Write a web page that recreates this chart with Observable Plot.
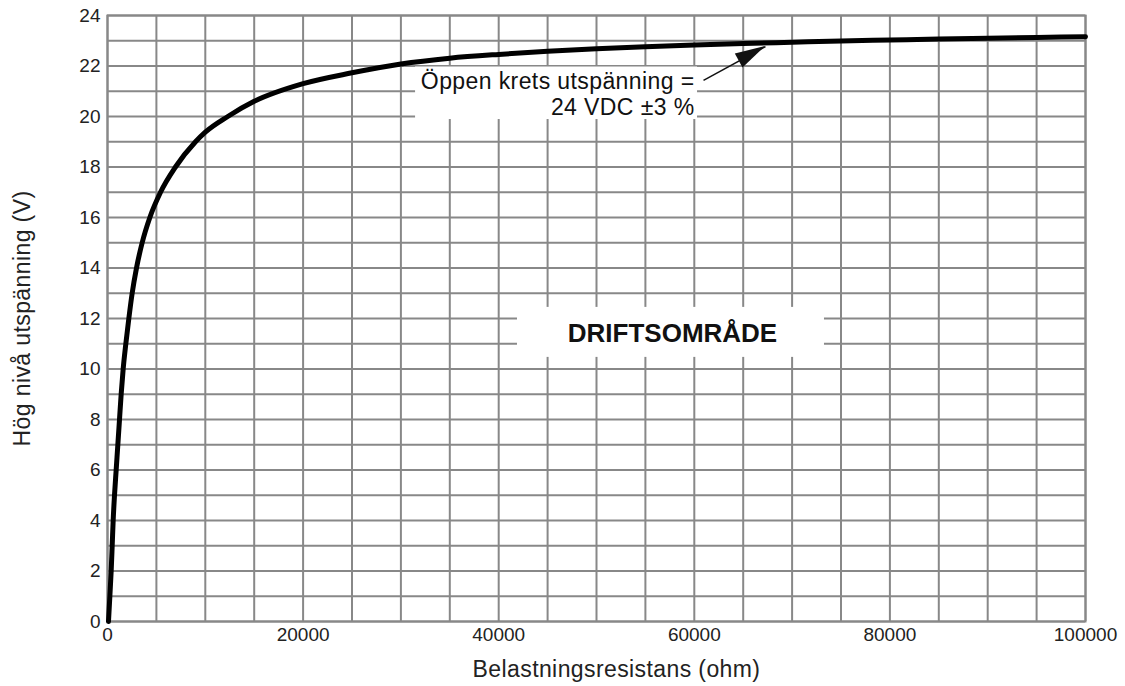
<!DOCTYPE html>
<html>
<head>
<meta charset="utf-8">
<script src="https://cdn.jsdelivr.net/npm/d3@7"></script>
<script src="https://cdn.jsdelivr.net/npm/@observablehq/plot@0.6"></script>
<style>
  html, body { margin: 0; padding: 0; background: #fff; }
  #chart svg { display: block; }
</style>
</head>
<body>
<div id="chart"></div>
<script>
// Load resistance (ohm)
const resistance = [100, 240, 375, 480, 580, 716, 886, 1057, 1227, 1397, 1602, 1875, 2181, 2522, 2965, 3544, 4330, 5420, 6950, 9000, 10000, 12300, 15000, 20000, 25000, 30000, 35000, 40000, 45000, 50000, 55000, 60000, 65000, 70000, 75000, 80000, 85000, 90000, 95000, 100000];
// High-level output voltage (V)
const voltage = [0, 1, 2, 3, 4, 5, 6, 7, 8, 9, 10, 11, 12, 13, 14, 15, 16, 17, 18, 19, 19.38, 20, 20.6, 21.30, 21.73, 22.08, 22.31, 22.46, 22.58, 22.68, 22.76, 22.83, 22.89, 22.94, 22.99, 23.03, 23.07, 23.10, 23.13, 23.16];

const xTicks = [0, 20000, 40000, 60000, 80000, 100000];
const yTicks = [0, 2, 4, 6, 8, 10, 12, 14, 16, 18, 20, 22, 24];
const xGrid = [0, 5000, 10000, 15000, 20000, 25000, 30000, 35000, 40000, 45000, 50000, 55000, 60000, 65000, 70000, 75000, 80000, 85000, 90000, 95000, 100000];
const yGrid = [0, 1, 2, 3, 4, 5, 6, 7, 8, 9, 10, 11, 12, 13, 14, 15, 16, 17, 18, 19, 20, 21, 22, 23, 24];

const xTitle = "Belastningsresistans (ohm)";
const yTitle = "Hög nivå utspänning (V)";
const noteLines = ["Öppen krets utspänning =", "24 VDC ±3 %"];
const noteLineY = [21.38, 20.36];
const noteX = 60020;
const noteBox = [{x1: 31500, x2: 60330, y1: 19.88, y2: 21.96}];
const zoneLabel = "DRIFTSOMRÅDE";
const zoneBox = [{x1: 41920, x2: 73310, y1: 10.46, y2: 12.44}];
const zonePos = {x: 57770, y: 11.38};
const arrowTail = {x: 60941, y: 21.43};
const arrowTip = {x: 67280, y: 22.77};

const curveData = resistance.map((r, i) => ({r, v: voltage[i]}));
const FONT = "'Liberation Sans', Arial, Helvetica, sans-serif";

const plot = Plot.plot({
  width: 1125,
  height: 686,
  marginLeft: 107,
  marginRight: 40,
  marginTop: 15,
  marginBottom: 65,
  style: {fontFamily: FONT, fontSize: "19px", color: "#222", background: "#fff", overflow: "visible"},
  x: {domain: [0, 100000], label: null},
  y: {domain: [0, 24], label: null},
  marks: [
    Plot.ruleX(xGrid, {stroke: "#888", strokeWidth: 2}),
    Plot.ruleY(yGrid, {stroke: "#888", strokeWidth: 2}),
    Plot.frame({stroke: "#888", strokeWidth: 2}),
    Plot.rect(noteBox, {x1: "x1", x2: "x2", y1: "y1", y2: "y2", fill: "white"}),
    Plot.rect(zoneBox, {x1: "x1", x2: "x2", y1: "y1", y2: "y2", fill: "white"}),
    Plot.line(curveData, {x: "r", y: "v", stroke: "black", strokeWidth: 5, curve: "monotone-x", strokeLinejoin: "round"}),
    Plot.text(noteLines, {x: () => noteX, y: (d, i) => noteLineY[i], text: d => d, textAnchor: "end", fontSize: 23, fill: "#111"}),
    Plot.text([zoneLabel], {x: () => zonePos.x, y: () => zonePos.y, text: d => d, fontSize: 26, fontWeight: "bold", fill: "#111"}),
    Plot.link([0], {x1: () => arrowTail.x, y1: () => arrowTail.y, x2: () => arrowTip.x, y2: () => arrowTip.y, stroke: "#111", strokeWidth: 1.5}),
    Plot.axisX(xTicks, {tickSize: 0, tickPadding: 6, tickFormat: d => String(d), label: null, fill: "#222"}),
    Plot.axisY(yTicks, {tickSize: 0, tickPadding: 7, tickFormat: d => String(d), label: null, fill: "#222"}),
    Plot.text([xTitle], {frameAnchor: "bottom", textAnchor: "middle", lineAnchor: "middle", dx: 20, dy: 48, fontSize: 23, fill: "#222"}),
    Plot.text([yTitle], {frameAnchor: "left", textAnchor: "middle", lineAnchor: "middle", dx: -85, rotate: -90, fontSize: 23, fill: "#222"})
  ]
});

// Filled arrowhead, positioned through the plot's own scales
const sx = plot.scale("x"), sy = plot.scale("y");
const tx = sx.apply(arrowTip.x), ty = sy.apply(arrowTip.y);
const ax = sx.apply(arrowTail.x), ay = sy.apply(arrowTail.y);
const len = Math.hypot(tx - ax, ty - ay);
const ux = (tx - ax) / len, uy = (ty - ay) / len;
const headLen = 30, halfW = 8;
const bx = tx - ux * headLen, by = ty - uy * headLen;
const pts = [[tx, ty], [bx - uy * halfW, by + ux * halfW], [bx + uy * halfW, by - ux * halfW]];
d3.select(plot).append("path")
  .attr("d", "M" + pts.map(p => p.join(",")).join("L") + "Z")
  .attr("fill", "#111");

d3.select(plot).selectAll("text").style("letter-spacing", function () {
  const g = this.closest("g");
  const fs = g && g.getAttribute("font-size");
  return fs === "23" ? "0.4px" : null;
});

document.getElementById("chart").appendChild(plot);
</script>
</body>
</html>
